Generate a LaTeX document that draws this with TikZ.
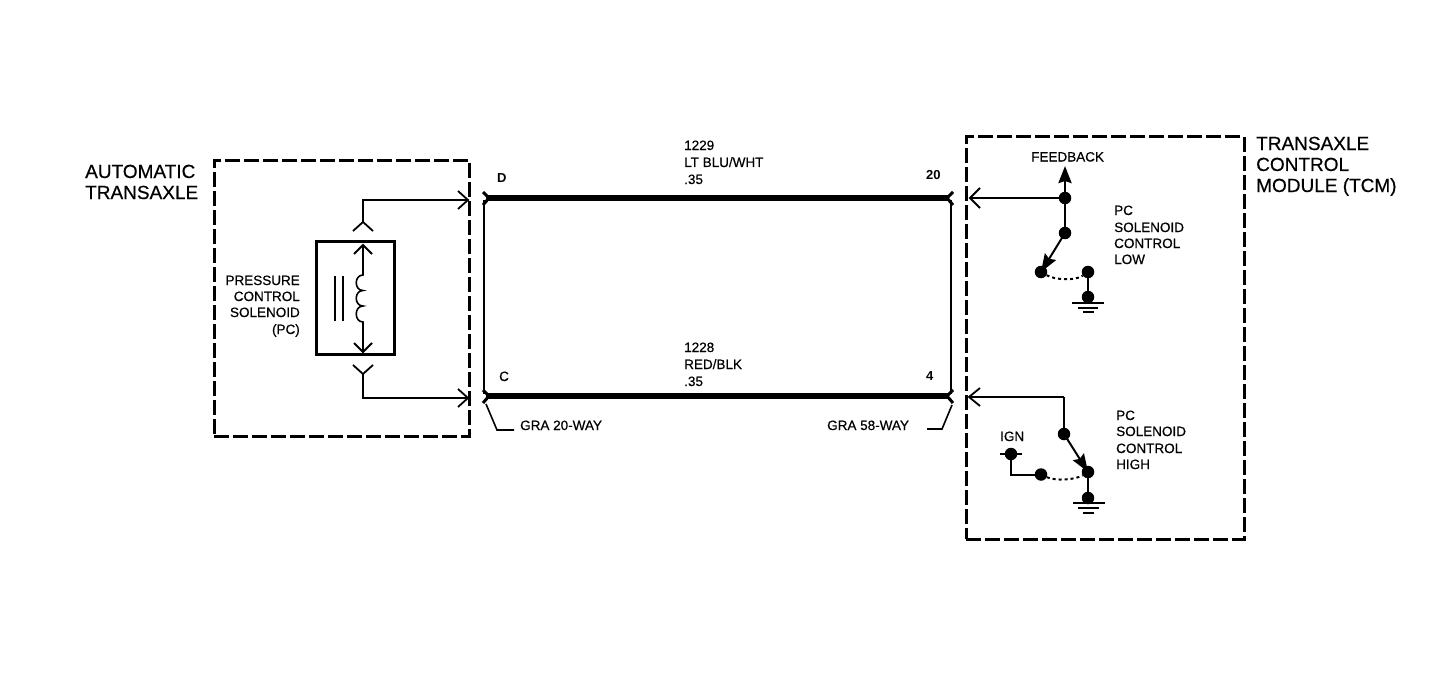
\documentclass[tikz,border=0pt]{standalone}
\usepackage{fontspec}
\setmainfont{Liberation Sans}
\newfontfamily\scanfont[FakeBold=0.5]{Liberation Sans}
\newfontfamily\scanheavy{Liberation Sans Bold}
\usetikzlibrary{arrows.meta}
\tikzset{
  x=1pt,y=-1pt,
  dashbox/.style={draw=black,line width=3pt,dash pattern=on 15pt off 4pt,minimum width=#1,inner sep=0pt,outer sep=0pt},
  bigtxt/.style={font=\scanfont\fontsize{19}{21}\selectfont,anchor=base west,inner sep=0pt,align=left},
  smalltxt/.style={font=\scanfont\fontsize{13.5}{16.5}\selectfont,anchor=base west,inner sep=0pt,text=black},
  boldtxt/.style={smalltxt,font=\scanheavy\fontsize{13}{16.5}\selectfont},
  wire/.style={line width=1.6pt,line join=miter},
  harness/.style={line width=5.5pt},
  side/.style={line width=2.2pt},
  chev/.style={line width=1.8pt},
  dotn/.style={circle,fill=black,inner sep=0pt,minimum size=12.5pt},
  sw/.style={line width=1.8pt},
  swtip/.style={line width=2pt,-{Stealth[length=18pt,width=13pt,inset=2.5pt]}},
  dotted wire/.style={line width=2pt,dash pattern=on 3pt off 3pt},
  gnd/.style={line width=1.7pt},
}
\begin{document}
\begin{tikzpicture}
\useasboundingbox (0,0) rectangle (1456,690);
\fill[white] (0,0) rectangle (1456,690);

% dashed enclosures
\node[dashbox=255pt,minimum height=276pt] (leftbox) at (341.5,298) {};
\node[dashbox=278pt,minimum height=402pt] (rightbox) at (1105,338) {};

% big titles
\node[bigtxt] (t1) at (85,178) {AUTOMATIC};
\node[bigtxt] (t2) at (85,199) {TRANSAXLE};
\node[bigtxt] (t3) at (1256,150) {TRANSAXLE};
\node[bigtxt] (t4) at (1256,171) {CONTROL};
\node[bigtxt] (t5) at (1256,192) {MODULE (TCM)};

% solenoid
\node[draw=black,line width=3pt,minimum width=78pt,minimum height=113pt,inner sep=0pt] (sol) at (355.5,298) {};
\coordinate (st) at (363,245);
\coordinate (sb) at (363,352);
\coordinate (c1) at (363,275);
\coordinate (c2) at (363,290.5);
\coordinate (c3) at (363,306);
\coordinate (c4) at (363,322);
\draw[wire] (st) -- (c1)
  .. controls (354,275) and (354,290.5) .. (c2)
  .. controls (354,290.5) and (354,306) .. (c3)
  .. controls (354,306) and (354,322) .. (c4) -- (sb);
\draw[chev] (354,254) -- (st) -- (372,254);
\draw[chev] (354,343) -- (sb) -- (372,343);
\draw[line width=1.5pt] (335,276) -- (335,321);
\draw[line width=1.5pt] (343,276) -- (343,321);
\node[smalltxt,anchor=base east] (p1) at (300,285) {PRESSURE};
\node[smalltxt,anchor=base east] (p2) at (300,301) {CONTROL};
\node[smalltxt,anchor=base east] (p3) at (300,317) {SOLENOID};
\node[smalltxt,anchor=base east] (p4) at (300,334) {(PC)};

% solenoid connectors
\coordinate (ua) at (363,222);
\coordinate (uc) at (363,200);
\coordinate (ue) at (468,200);
\coordinate (la) at (363,374);
\coordinate (lc) at (363,398);
\coordinate (le) at (468,398);
\draw[chev] (353,231) -- (ua) -- (373,231);
\draw[chev] (353,365) -- (la) -- (373,365);
\draw[wire] (ua) -- (uc) -- (ue);
\draw[wire] (la) -- (lc) -- (le);
\draw[chev] (458,191) -- (ue) -- (458,209);
\draw[chev] (458,389) -- (le) -- (458,407);

% harness
\coordinate (hl1) at (486,198);
\coordinate (hr1) at (949,198);
\coordinate (hl2) at (486,396);
\coordinate (hr2) at (949,396);
\draw[side] (484,200) -- (484,394);
\draw[side] (951,200) -- (951,394);
\draw[harness] (hl1) -- (hr1);
\draw[harness] (hl2) -- (hr2);
\foreach \yy in {198,396}{
  \draw[line width=3pt] (483,\yy-6) -- (489,\yy) -- (483,\yy+7);
  \draw[line width=3pt] (953,\yy-6) -- (947,\yy) -- (953,\yy+7);
}

% harness labels
\node[smalltxt] (a1) at (684,150) {1229};
\node[smalltxt] (a2) at (684,167) {LT BLU/WHT};
\node[smalltxt] (a3) at (684,184) {.35};
\node[smalltxt] (b1) at (684,352) {1228};
\node[smalltxt] (b2) at (684,369) {RED/BLK};
\node[smalltxt] (b3) at (684,386) {.35};
\node[boldtxt] (pd) at (497,182) {D};
\node[boldtxt] (p20) at (926,179) {20};
\node[smalltxt] (pc) at (499,381) {C};
\node[boldtxt] (p4b) at (926,380) {4};

% connector leaders
\node[smalltxt] (g20) at (520,430) {GRA 20-WAY};
\node[smalltxt] (g58) at (827,430) {GRA 58-WAY};
\coordinate (l1a) at (486,404);
\coordinate (l1b) at (497,430);
\coordinate (l1c) at (514,430);
\coordinate (l2a) at (952,405);
\coordinate (l2b) at (942,429);
\coordinate (l2c) at (927,429);
\draw[wire] (l1a) -- (l1b) -- (l1c);
\draw[wire] (l2a) -- (l2b) -- (l2c);

% low switch
\node[dotn] (d1) at (1065,198) {};
\node[dotn] (d2) at (1065,233) {};
\node[dotn] (d3) at (1041,272) {};
\node[dotn] (d4) at (1088,272) {};
\node[dotn] (d5) at (1088,297) {};
\coordinate (fb) at (1065,166);
\coordinate (lowin) at (970,198);
\draw[wire] (d1) -- (lowin);
\draw[chev] (980,188) -- (lowin) -- (980,208);
\draw[line width=2.5pt,-{Stealth[length=17pt,width=13pt,inset=2pt]}] (d1.center) -- (fb);
\draw[sw] (d1) -- (d2);
\draw[swtip] (d2.center) -- (d3.center);
\draw[dotted wire] (d3) .. controls (1055,280) and (1075,281) .. (d4);
\draw[sw] (d4) -- (d5);
\draw[gnd] (1072,303) -- (1104,303);
\draw[gnd] (1078,308) -- (1098,308);
\draw[gnd] (1083,312) -- (1094,312);
\node[smalltxt] (fbt) at (1031,161.5) {FEEDBACK};
\node[smalltxt] (q1) at (1114,215) {PC};
\node[smalltxt] (q2) at (1114,232) {SOLENOID};
\node[smalltxt] (q3) at (1114,248) {CONTROL};
\node[smalltxt] (q4) at (1114,264) {LOW};

% high switch
\node[dotn] (e1) at (1064,434) {};
\node[dotn] (e2) at (1088,472) {};
\node[dotn] (e3) at (1041,474.5) {};
\node[dotn] (e4) at (1011,454) {};
\node[dotn] (e5) at (1088,498) {};
\coordinate (hiin) at (969,397);
\coordinate (hic) at (1064,397);
\draw[wire] (hiin) -- (hic);
\draw[line width=2.8pt] (hic) -- (e1);
\draw[chev] (980,388) -- (hiin) -- (980,406);
\draw[swtip] (e1.center) -- (e2.center);
\draw[dotted wire] (e3) .. controls (1055,481) and (1075,480) .. (e2);
\draw[sw] (e2) -- (e5);
\draw[line width=1.8pt] (1000,454) -- (1022,454);
\draw[line width=2pt] (e4) |- (e3);
\draw[gnd] (1073,503) -- (1105,503);
\draw[gnd] (1078,508) -- (1099,508);
\draw[gnd] (1083,513) -- (1094,513);
\node[smalltxt] (ign) at (1000,441) {IGN};
\node[smalltxt] (r1) at (1116,420) {PC};
\node[smalltxt] (r2) at (1116,436) {SOLENOID};
\node[smalltxt] (r3) at (1116,453) {CONTROL};
\node[smalltxt] (r4) at (1116,469) {HIGH};
\end{tikzpicture}
\end{document}
